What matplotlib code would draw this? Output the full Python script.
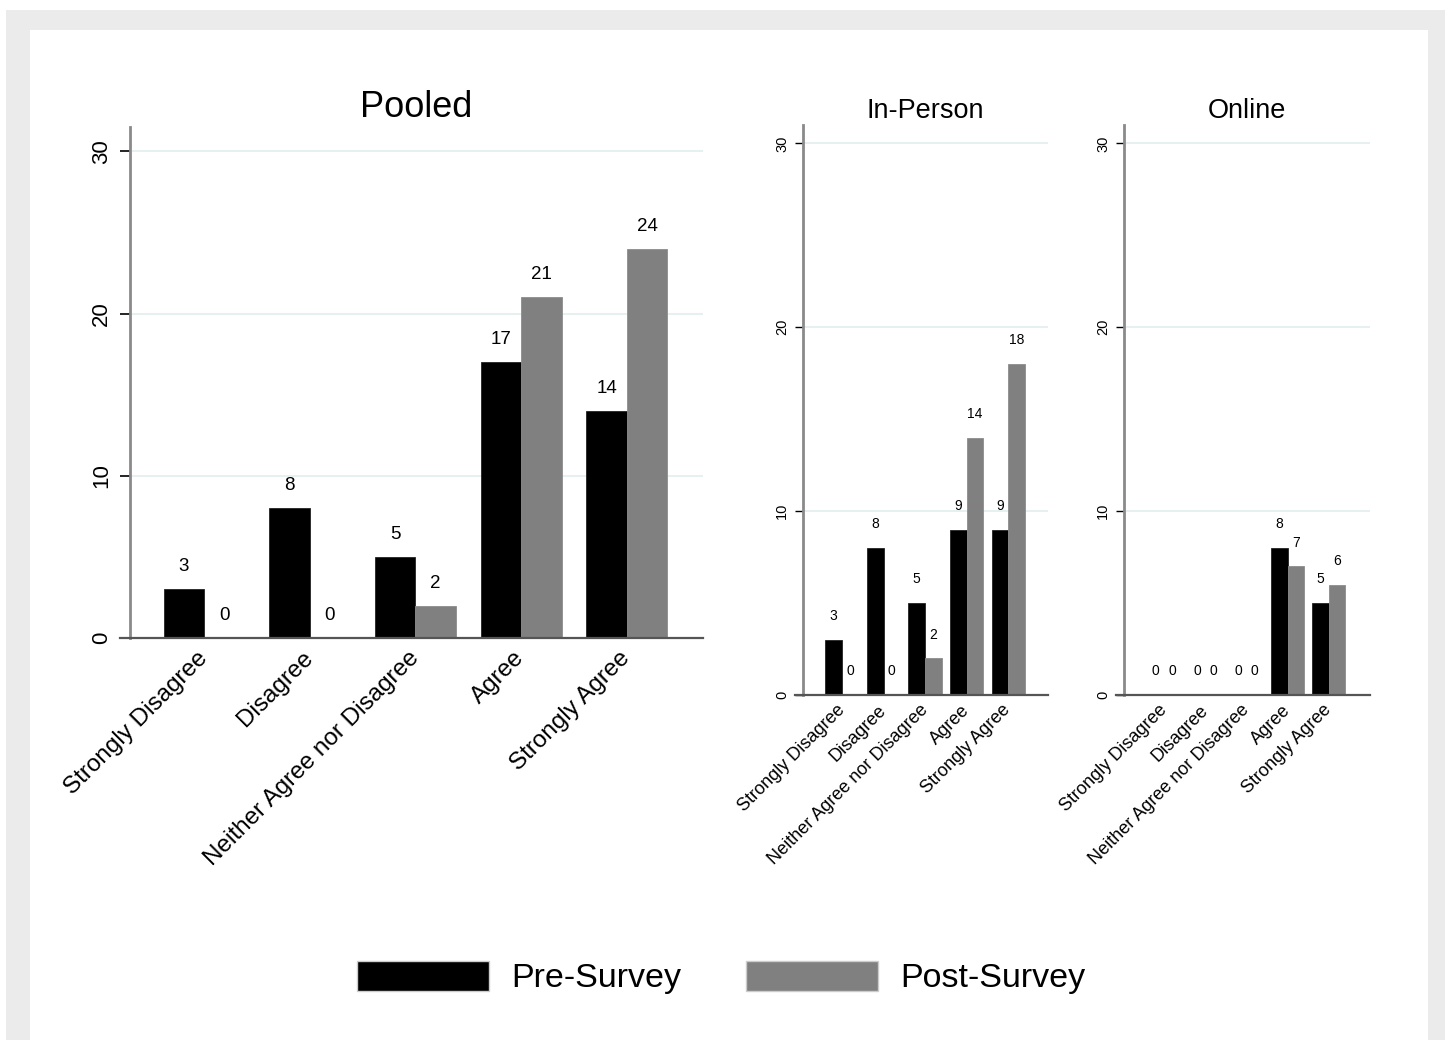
import matplotlib
matplotlib.use("Agg")
import matplotlib.pyplot as plt
from matplotlib.patches import Rectangle, Patch
import numpy as np

plt.rcParams['font.family'] = ['Liberation Sans', 'DejaVu Sans']

categories = ['Strongly Disagree', 'Disagree', 'Neither Agree nor Disagree', 'Agree', 'Strongly Agree']
pooled_pre = [3, 8, 5, 17, 14]
pooled_post = [0, 0, 2, 21, 24]
inperson_pre = [3, 8, 5, 9, 9]
inperson_post = [0, 0, 2, 14, 18]
online_pre = [0, 0, 0, 8, 5]
online_post = [0, 0, 0, 7, 6]
yticks = [0, 10, 20, 30]

W, H = 1445, 1040
fig = plt.figure(figsize=(W / 100, H / 100), dpi=100, facecolor='white')

# grey frame and white panel
fig.patches.append(Rectangle((6 / W, 0), 1 - 6 / W, 1 - 10 / H, transform=fig.transFigure,
                             facecolor='#ebebeb', edgecolor='none', zorder=-10))
fig.patches.append(Rectangle((30 / W, 0), (1428 - 30) / W, 1 - 30 / H, transform=fig.transFigure,
                             facecolor='white', edgecolor='none', zorder=-9))


def panel(rect, pre, post, title, width, xlim, ytop, big):
    ax = fig.add_axes(rect)
    ax.set_facecolor('none')
    x = np.arange(len(categories))
    b1 = ax.bar(x - width / 2, pre, width, color='black', edgecolor='#222222', linewidth=0.6, zorder=3)
    b2 = ax.bar(x + width / 2, post, width, color='#808080', edgecolor='#8c8c8c', linewidth=0.6, zorder=3)
    fs_val = 13.5 if big else 10
    pad = 10 if big else 12
    ax.bar_label(b1, padding=pad, fontsize=fs_val)
    ax.bar_label(b2, padding=pad, fontsize=fs_val)
    ax.set_xlim(*xlim)
    ax.set_ylim(0, ytop)
    ax.set_yticks(yticks)
    ax.set_yticklabels([str(v) for v in yticks])
    for v in yticks[1:]:
        ax.axhline(v, color='#e2eeee', linewidth=1.2, zorder=1)
    ax.set_xticks(x)
    ax.set_xticklabels(categories, rotation=45, ha='right', rotation_mode='anchor', va='center')
    for s in ['top', 'right', 'bottom']:
        ax.spines[s].set_visible(False)
    ax.spines['left'].set_color('#8a8a8a')
    ax.spines['left'].set_linewidth(2)
    ax.axhline(0, xmin=-0.0175 if big else -0.033, xmax=1, color='#555555', linewidth=1.6,
               clip_on=False, zorder=4)
    if big:
        ax.tick_params(axis='y', labelrotation=90, labelsize=16, length=7, width=1.2, pad=6)
        ax.tick_params(axis='x', labelsize=17.5, length=0, pad=12)
        ax.set_title(title, fontsize=26, pad=7)
    else:
        ax.tick_params(axis='y', labelrotation=90, labelsize=10.5, length=6, width=1.0, pad=4)
        ax.tick_params(axis='x', labelsize=13, length=0, pad=9)
        ax.set_title(title, fontsize=19.5, pad=5)
    for lab in ax.get_yticklabels():
        lab.set_va('center')
    return ax


panel([130 / W, 1 - 638 / H, (703 - 130) / W, (638 - 127) / H],
      pooled_pre, pooled_post, 'Pooled', 0.383, (-0.70, 4.72), 31.5, True)
panel([803 / W, 1 - 695 / H, (1048 - 803) / W, (695 - 125) / H],
      inperson_pre, inperson_post, 'In-Person', 0.40, (-0.94, 4.96), 31.0, False)
panel([1124 / W, 1 - 695 / H, (1370 - 1124) / W, (695 - 125) / H],
      online_pre, online_post, 'Online', 0.40, (-0.97, 5.0), 31.0, False)

handles = [Patch(facecolor='black', edgecolor='#cccccc', label='Pre-Survey'),
           Patch(facecolor='#808080', edgecolor='#cccccc', label='Post-Survey')]
fig.legend(handles=handles, loc='center', bbox_to_anchor=(0.499, 0.06), ncol=2, frameon=False,
           fontsize=24.5, handlelength=3.88, handleheight=0.97, handletextpad=0.65, columnspacing=1.9)

fig.savefig('out.png', dpi=100, facecolor='white')
